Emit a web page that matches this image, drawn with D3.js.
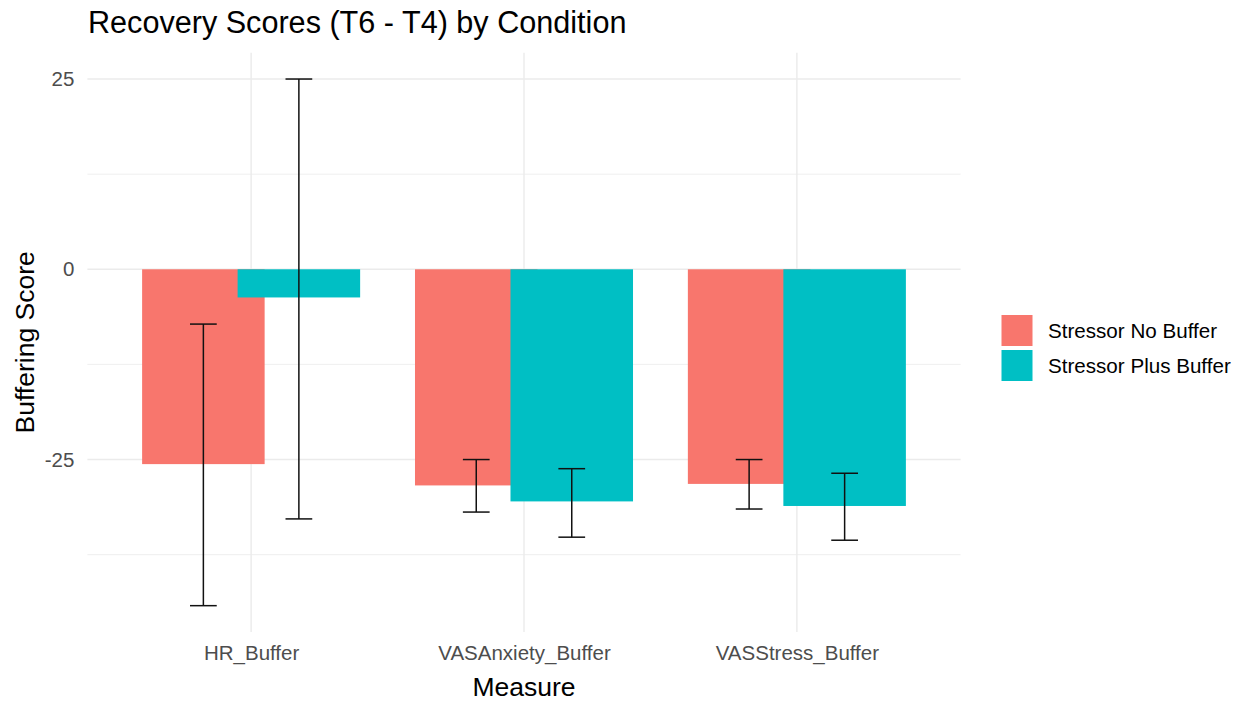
<!DOCTYPE html>
<html>
<head>
<meta charset="utf-8">
<script src="https://cdn.jsdelivr.net/npm/d3@7"></script>
<style>
  html, body { margin: 0; padding: 0; background: #fff; }
  svg { display: block; font-family: "Liberation Sans", Arial, sans-serif; }
</style>
</head>
<body>
<svg id="chart" width="1244" height="702"></svg>
<script>
const categories = ["HR_Buffer", "VASAnxiety_Buffer", "VASStress_Buffer"];
const seriesNames = ["Stressor No Buffer", "Stressor Plus Buffer"];
const noBufferMean = [-25.6, -28.4, -28.2];
const noBufferLow  = [-44.2, -31.9, -31.5];
const noBufferHigh = [-7.2, -25.0, -25.0];
const plusBufferMean = [-3.7, -30.5, -31.1];
const plusBufferLow  = [-32.8, -35.2, -35.6];
const plusBufferHigh = [25.0, -26.2, -26.8];
const yTicks = [-25, 0, 25];
const yMinor = [-37.5, -12.5, 12.5];
const colors = ["#F8766D", "#00BFC4"];

const svg = d3.select("#chart");
const panel = { left: 87.4, right: 960.6, top: 52.7, bottom: 632 };

const rows = [];
categories.forEach((c, i) => {
  rows.push({ cat: c, s: 0, mean: noBufferMean[i], lo: noBufferLow[i], hi: noBufferHigh[i] });
  rows.push({ cat: c, s: 1, mean: plusBufferMean[i], lo: plusBufferLow[i], hi: plusBufferHigh[i] });
});

const allVals = rows.flatMap(r => [r.mean, r.lo, r.hi, 0]);
const yMin = d3.min(allVals), yMax = d3.max(allVals);
const pad = (yMax - yMin) * 0.05;
const y = d3.scaleLinear().domain([yMin - pad, yMax + pad]).range([panel.bottom, panel.top]);
const x = d3.scalePoint().domain(categories).range([panel.left, panel.right]).padding(0.6);
const step = x.step();
const barW = step * 0.449;
const dodge = step * 0.175;
const capW = step * 0.098;

// gridlines
const grid = svg.append("g");
grid.selectAll("line.minor").data(yMinor).join("line")
  .attr("x1", panel.left).attr("x2", panel.right)
  .attr("y1", d => y(d)).attr("y2", d => y(d))
  .attr("stroke", "#EBEBEB").attr("stroke-width", 0.8);
grid.selectAll("line.major").data(yTicks).join("line")
  .attr("x1", panel.left).attr("x2", panel.right)
  .attr("y1", d => y(d)).attr("y2", d => y(d))
  .attr("stroke", "#EBEBEB").attr("stroke-width", 1.4);
grid.selectAll("line.vmajor").data(categories).join("line")
  .attr("x1", d => x(d)).attr("x2", d => x(d))
  .attr("y1", panel.top).attr("y2", panel.bottom)
  .attr("stroke", "#EBEBEB").attr("stroke-width", 1.4);

// bars
svg.append("g").selectAll("rect").data(rows).join("rect")
  .attr("x", d => x(d.cat) + (d.s === 0 ? -dodge : dodge) - barW / 2)
  .attr("width", barW)
  .attr("y", d => Math.min(y(d.mean), y(0)))
  .attr("height", d => Math.abs(y(d.mean) - y(0)))
  .attr("fill", d => colors[d.s]);

// error bars
const eb = svg.append("g").attr("stroke", "#111").attr("stroke-width", 1.5).attr("fill", "none");
rows.forEach(d => {
  const cx = x(d.cat) + (d.s === 0 ? -dodge : dodge);
  eb.append("line").attr("x1", cx).attr("x2", cx).attr("y1", y(d.hi)).attr("y2", y(d.lo));
  eb.append("line").attr("x1", cx - capW / 2).attr("x2", cx + capW / 2).attr("y1", y(d.hi)).attr("y2", y(d.hi));
  eb.append("line").attr("x1", cx - capW / 2).attr("x2", cx + capW / 2).attr("y1", y(d.lo)).attr("y2", y(d.lo));
});

// y axis
const yAxis = svg.append("g").attr("transform", `translate(${panel.left - 4},0)`)
  .call(d3.axisLeft(y).tickValues(yTicks).tickFormat(d => String(d)).tickSize(0).tickPadding(9));
yAxis.select(".domain").remove();
yAxis.selectAll("text").attr("font-size", 20.5).attr("fill", "#4D4D4D")
  .attr("font-family", "'Liberation Sans', Arial, sans-serif");

// x axis
const xAxis = svg.append("g").attr("transform", `translate(0,${panel.bottom})`)
  .call(d3.axisBottom(x).tickSize(0).tickPadding(13));
xAxis.select(".domain").remove();
xAxis.selectAll("text").attr("font-size", 20.5).attr("fill", "#4D4D4D")
  .attr("font-family", "'Liberation Sans', Arial, sans-serif");

// titles
svg.append("text").attr("x", 88).attr("y", 33).attr("font-size", 30.6).attr("fill", "#000")
  .text("Recovery Scores (T6 - T4) by Condition");
svg.append("text").attr("x", (panel.left + panel.right) / 2).attr("y", 696)
  .attr("text-anchor", "middle").attr("font-size", 26.5).attr("fill", "#000").text("Measure");
svg.append("text").attr("transform", `translate(33.5,${(panel.top + panel.bottom) / 2}) rotate(-90)`)
  .attr("text-anchor", "middle").attr("font-size", 26.5).attr("fill", "#000").text("Buffering Score");

// legend
const leg = svg.append("g").attr("transform", "translate(1001.5,315)");
seriesNames.forEach((n, i) => {
  leg.append("rect").attr("x", 0).attr("y", i * 35).attr("width", 31).attr("height", 31).attr("fill", colors[i]);
  leg.append("text").attr("x", 46.5).attr("y", i * 35 + 15.5).attr("dy", "0.35em")
    .attr("font-size", 20.6).attr("fill", "#000").text(n);
});
</script>
</body>
</html>
